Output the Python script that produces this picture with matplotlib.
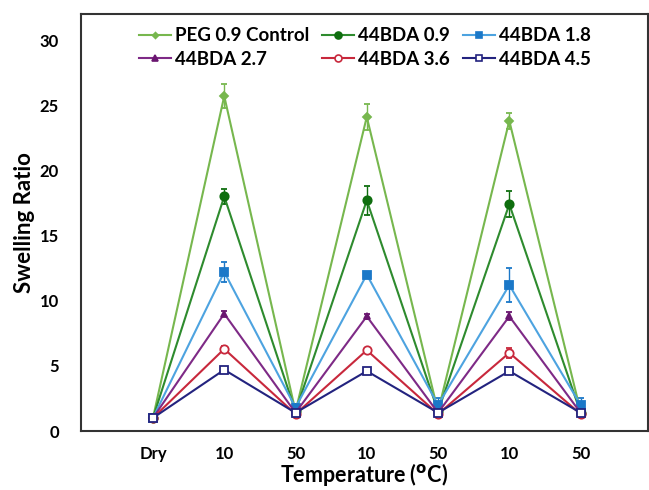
import matplotlib
matplotlib.use('Agg')
import matplotlib.pyplot as plt
from matplotlib.lines import Line2D

# x categories (cycles of cooling/heating)
temps = ['Dry', '10', '50', '10', '50', '10', '50']

# swelling ratios
peg_09 = [1.0, 25.7, 1.5, 24.1, 1.5, 23.8, 1.5]
bda_09 = [1.0, 18.0, 1.5, 17.7, 1.5, 17.4, 1.4]
bda_18 = [1.0, 12.2, 1.8, 12.0, 2.0, 11.2, 2.0]
bda_27 = [1.0, 9.0, 1.4, 8.8, 1.4, 8.8, 1.4]
bda_36 = [1.0, 6.3, 1.3, 6.2, 1.3, 6.0, 1.3]
bda_45 = [1.0, 4.7, 1.4, 4.6, 1.4, 4.6, 1.4]

# error bars (std)
peg_09_err = [0.0, 0.9, 0.2, 1.0, 0.2, 0.6, 0.2]
bda_09_err = [0.0, 0.6, 0.2, 1.1, 0.2, 1.0, 0.2]
bda_18_err = [0.0, 0.8, 0.3, 0.2, 0.5, 1.3, 0.5]
bda_27_err = [0.0, 0.2, 0.1, 0.2, 0.1, 0.3, 0.1]
bda_36_err = [0.0, 0.2, 0.1, 0.2, 0.1, 0.4, 0.1]
bda_45_err = [0.0, 0.2, 0.1, 0.2, 0.1, 0.2, 0.1]

plt.rcParams['font.family'] = ['Lato', 'DejaVu Sans']
plt.rcParams['font.weight'] = 'bold'

fig = plt.figure(figsize=(6.49, 4.9), dpi=100)
ax = fig.add_axes([0.1248, 0.1204, 0.873, 0.851])

x = list(range(len(temps)))

series = [
    ('PEG 0.9 Control', peg_09, peg_09_err, '#77b74e', '#77b74e', 'D', 4, '#77b74e'),
    ('44BDA 0.9', bda_09, bda_09_err, '#2e8b2e', '#0f6e0f', 'o', 6, '#0f6e0f'),
    ('44BDA 1.8', bda_18, bda_18_err, '#4da3e0', '#1b78c8', 's', 6, '#1b78c8'),
    ('44BDA 2.7', bda_27, bda_27_err, '#7e2a86', '#6a1670', '^', 5, '#6a1670'),
    ('44BDA 3.6', bda_36, bda_36_err, '#c8283c', '#c8283c', 'o', 6, 'white'),
    ('44BDA 4.5', bda_45, bda_45_err, '#23237f', '#23237f', 's', 6, 'white'),
]

handles = []
for name, vals, err, lc, mc, mk, ms, mf in series:
    ax.errorbar(x, vals, yerr=err, color=lc, lw=1.5, marker=mk, ms=ms,
                mec=mc, mfc=mf, mew=1.3, ecolor=mc, elinewidth=1,
                capsize=2.5)
    handles.append(Line2D([], [], color=lc, lw=1.5, marker=mk, ms=ms - 1,
                          mec=mc, mfc=mf, mew=1.2, label=name))

ax.set_xlim(-1.01, 6.94)
ax.set_ylim(0, 32)
ax.set_yticks([0, 5, 10, 15, 20, 25, 30])
ax.set_xticks(x)
ax.set_xticklabels(temps)
ax.tick_params(length=0, labelsize=12, pad=11)
ax.tick_params(axis='y', pad=16)
for sp in ax.spines.values():
    sp.set_linewidth(1.5)
    sp.set_color('#333333')

ax.set_ylabel('Swelling Ratio', fontsize=16, fontweight='bold', labelpad=3)
ax.set_xlabel('Temperature ($\\mathbf{^{o}}$C)', fontsize=15.5, fontweight='bold', labelpad=-1)

# reorder so rows read left to right
order = [0, 3, 1, 4, 2, 5]
ax.legend([handles[i] for i in order], [series[i][0] for i in order],
          ncol=3, loc='upper left', bbox_to_anchor=(0.08, 1.0),
          frameon=False, fontsize=13.5, handlelength=1.7,
          handletextpad=0.2, columnspacing=0.7, labelspacing=0.35,
          borderaxespad=0.3)

plt.savefig('out.png', dpi=100)
